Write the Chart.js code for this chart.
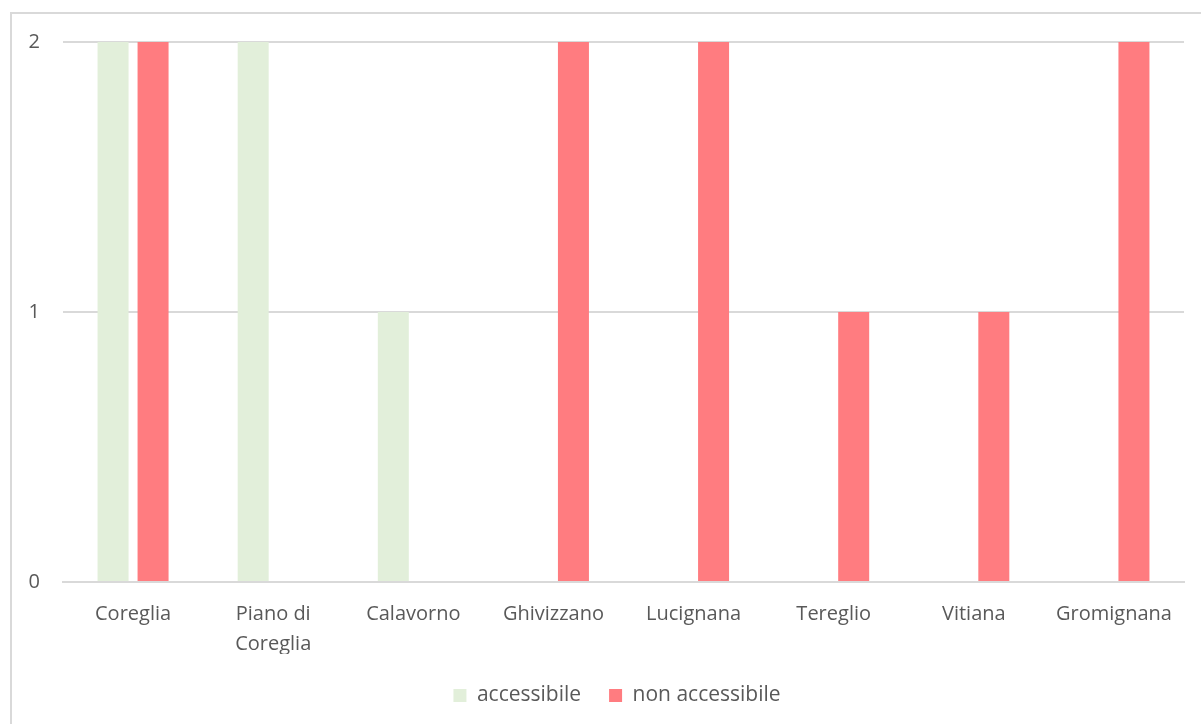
<!DOCTYPE html>
<html><head><meta charset="utf-8">
<script src="https://cdn.jsdelivr.net/npm/chart.js@4/dist/chart.umd.min.js"></script>
<style>
html,body{margin:0;padding:0;background:#fff;overflow:hidden}
#frame{position:absolute;left:10px;top:12px;width:1300px;height:800px;border:2px solid #d9d9d9;box-sizing:border-box}
#wrap{position:absolute;left:0;top:0;width:1201px;height:724px}
</style></head>
<body>
<div id="frame"></div>
<div id="wrap"><canvas id="c" width="1201" height="724"></canvas></div>
<script>
const categories = ["Coreglia", ["Piano di","Coreglia"], "Calavorno", "Ghivizzano", "Lucignana", "Tereglio", "Vitiana", "Gromignana"];
const accessibile = [2, 2, 1, 0, 0, 0, 0, 0];
const nonAccessibile = [2, 0, 0, 2, 2, 1, 1, 2];
const yTicks = [0, 1, 2];

const FONT = "'Open Sans', sans-serif";
const TXT = '#595959';

const legendShift = {
  id: 'legendShift',
  afterLayout(chart) {
    const l = chart.legend;
    if (!l) return;
    l.left += 25; l.right += 25;
    l.top += 3; l.bottom += 3;
  }
};

new Chart(document.getElementById('c'), {
  type: 'bar',
  data: {
    labels: categories,
    datasets: [
      {label: 'accessibile', data: accessibile, backgroundColor: '#E2EFDA', categoryPercentage: 0.571, barPercentage: 0.775},
      {label: 'non accessibile', data: nonAccessibile, backgroundColor: '#FF7C80', categoryPercentage: 0.571, barPercentage: 0.775}
    ]
  },
  plugins: [legendShift],
  options: {
    responsive: false,
    animation: false,
    layout: {padding: {left: 0, right: 17, top: 42, bottom: 11}},
    plugins: {
      tooltip: {enabled: false},
      legend: {
        position: 'bottom',
        labels: {
          boxWidth: 13, boxHeight: 13, padding: 28,
          color: TXT, font: {family: FONT, size: 21}
        }
      }
    },
    scales: {
      x: {
        grid: {display: false, drawTicks: false},
        border: {color: '#d9d9d9', width: 2},
        ticks: {color: TXT, font: {family: FONT, size: 20, lineHeight: 1.5}, padding: 17, maxRotation: 0, autoSkip: false},
        afterFit: s => { s.height = 72; }
      },
      y: {
        min: 0, max: 2,
        afterBuildTicks: s => { s.ticks = yTicks.map(v => ({value: v})); },
        grid: {color: '#d9d9d9', lineWidth: 2, drawTicks: false},
        border: {display: false},
        ticks: {color: TXT, font: {family: FONT, size: 20}, padding: 23},
        afterFit: s => { s.width = 63; }
      }
    }
  }
});
</script>
</body></html>
